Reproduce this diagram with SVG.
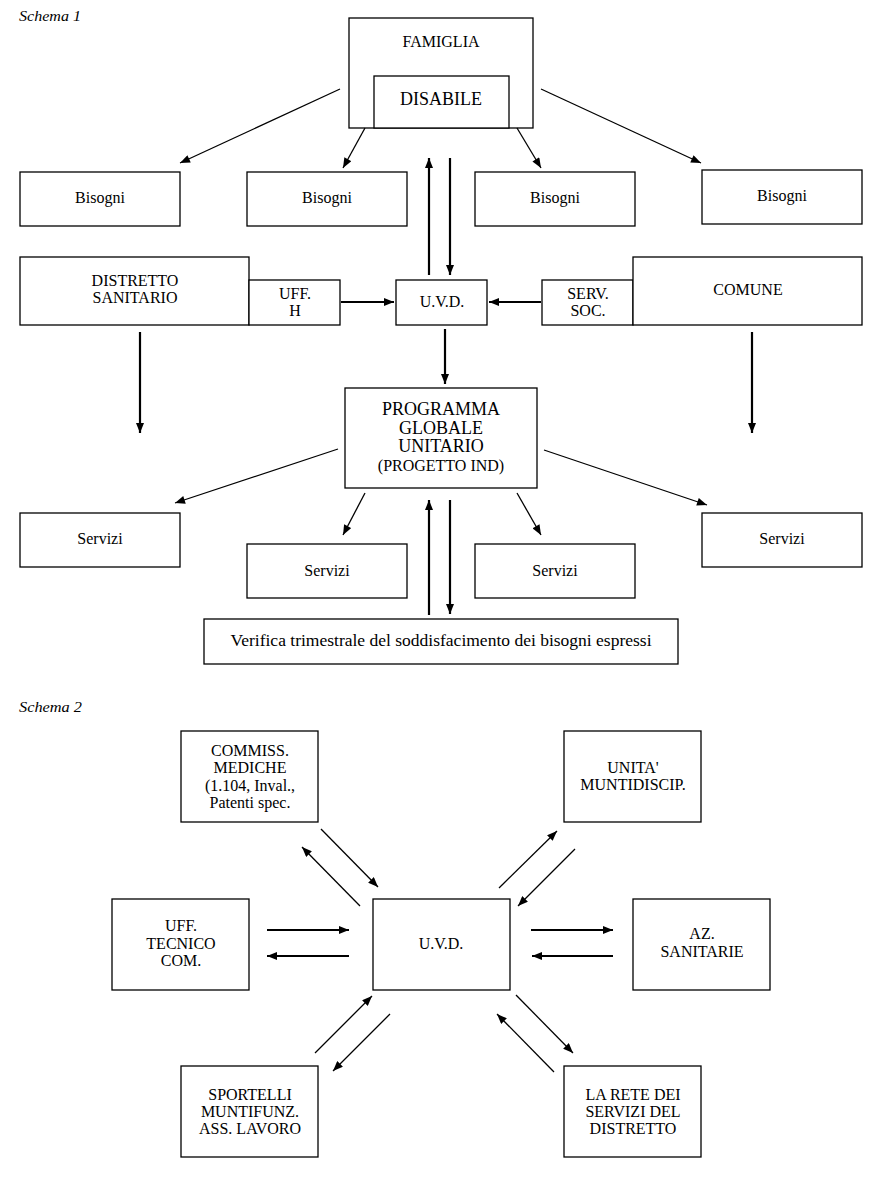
<svg xmlns="http://www.w3.org/2000/svg" width="883" height="1183" viewBox="0 0 883 1183">
<style>
rect{fill:#fff;stroke:#000;stroke-width:1.3}
text{font-family:"Liberation Serif","Times New Roman",serif;font-size:16px;fill:#000;text-anchor:middle}
.cap{font-style:italic;font-size:15px;text-anchor:start}
.big{font-size:18px}
.c line{stroke:#000;stroke-width:1.3;fill:none}
.c .th{stroke-width:2.2}
</style>
<defs>
<marker id="ah" viewBox="0 0 10 8" refX="10" refY="4" markerWidth="11" markerHeight="8" markerUnits="userSpaceOnUse" orient="auto">
<path d="M0,0 L10,4 L0,8 Z" fill="#000"/>
</marker>
</defs>
<rect x="0" y="0" width="883" height="1183" style="stroke:none"/>
<text class="cap" x="19" y="21" textLength="62" lengthAdjust="spacingAndGlyphs">Schema 1</text>
<text class="cap" x="19" y="712" textLength="63" lengthAdjust="spacingAndGlyphs">Schema 2</text>

<g id="famiglia"><rect x="349" y="18" width="184" height="110"/><text x="441" y="47">FAMIGLIA</text></g>
<g id="disabile"><rect x="374" y="76" width="135" height="52"/><text class="big" x="441" y="105">DISABILE</text></g>
<g id="bisogni1"><rect x="20" y="172" width="160" height="54"/><text x="100" y="203">Bisogni</text></g>
<g id="bisogni2"><rect x="247" y="172" width="160" height="54"/><text x="327" y="203">Bisogni</text></g>
<g id="bisogni3"><rect x="475" y="172" width="160" height="54"/><text x="555" y="203">Bisogni</text></g>
<g id="bisogni4"><rect x="702" y="170" width="160" height="54"/><text x="782" y="201">Bisogni</text></g>
<g id="distretto"><rect x="20" y="257" width="229" height="68"/><text x="135" y="286">DISTRETTO</text><text x="135" y="303">SANITARIO</text></g>
<g id="uffh"><rect x="249" y="280" width="91" height="45"/><text x="295" y="299">UFF.</text><text x="295" y="316">H</text></g>
<g id="uvd1"><rect x="396" y="280" width="91" height="45"/><text x="442" y="307">U.V.D.</text></g>
<g id="servsoc"><rect x="542" y="280" width="91" height="45"/><text x="588" y="299">SERV.</text><text x="588" y="316">SOC.</text></g>
<g id="comune"><rect x="633" y="257" width="229" height="68"/><text x="748" y="295">COMUNE</text></g>
<g id="programma"><rect x="345" y="388" width="192" height="100"/><text class="big" x="441" y="415">PROGRAMMA</text><text class="big" x="441" y="434">GLOBALE</text><text class="big" x="441" y="452">UNITARIO</text><text x="441" y="471">(PROGETTO IND)</text></g>
<g id="servizi1"><rect x="20" y="513" width="160" height="54"/><text x="100" y="544">Servizi</text></g>
<g id="servizi2"><rect x="247" y="544" width="160" height="54"/><text x="327" y="576">Servizi</text></g>
<g id="servizi3"><rect x="475" y="544" width="160" height="54"/><text x="555" y="576">Servizi</text></g>
<g id="servizi4"><rect x="702" y="513" width="160" height="54"/><text x="782" y="544">Servizi</text></g>
<g id="verifica"><rect x="204" y="619" width="474" height="45"/><text x="441" y="646" textLength="421" lengthAdjust="spacingAndGlyphs">Verifica trimestrale del soddisfacimento dei bisogni espressi</text></g>

<g id="commiss"><rect x="181" y="731" width="137" height="91"/><text x="250" y="756">COMMISS.</text><text x="250" y="773">MEDICHE</text><text x="250" y="791">(1.104, Inval.,</text><text x="250" y="808">Patenti spec.</text></g>
<g id="unita"><rect x="564" y="731" width="137" height="91"/><text x="633" y="773">UNITA'</text><text x="633" y="790">MUNTIDISCIP.</text></g>
<g id="ufftecnico"><rect x="112" y="899" width="137" height="91"/><text x="181" y="931">UFF.</text><text x="181" y="949">TECNICO</text><text x="181" y="966">COM.</text></g>
<g id="uvd2"><rect x="373" y="899" width="137" height="91"/><text x="441" y="949">U.V.D.</text></g>
<g id="azsanitarie"><rect x="633" y="899" width="137" height="91"/><text x="702" y="939">AZ.</text><text x="702" y="957">SANITARIE</text></g>
<g id="sportelli"><rect x="181" y="1066" width="137" height="91"/><text x="250" y="1100">SPORTELLI</text><text x="250" y="1117">MUNTIFUNZ.</text><text x="250" y="1134">ASS. LAVORO</text></g>
<g id="rete"><rect x="564" y="1066" width="137" height="91"/><text x="633" y="1100">LA RETE DEI</text><text x="633" y="1117">SERVIZI DEL</text><text x="633" y="1134">DISTRETTO</text></g>

<g id="connectors" class="c">
<line x1="340" y1="89" x2="180" y2="163" marker-end="url(#ah)"/>
<line x1="365" y1="128" x2="343" y2="168" marker-end="url(#ah)"/>
<line x1="517" y1="128" x2="541" y2="168" marker-end="url(#ah)"/>
<line x1="541" y1="89" x2="701" y2="163" marker-end="url(#ah)"/>
<line class="th" x1="429" y1="275" x2="429" y2="158" marker-end="url(#ah)"/>
<line class="th" x1="450" y1="158" x2="450" y2="275" marker-end="url(#ah)"/>
<line class="th" x1="341" y1="302" x2="394" y2="302" marker-end="url(#ah)"/>
<line class="th" x1="541" y1="302" x2="489" y2="302" marker-end="url(#ah)"/>
<line class="th" x1="140" y1="332" x2="140" y2="433" marker-end="url(#ah)"/>
<line class="th" x1="752" y1="332" x2="752" y2="433" marker-end="url(#ah)"/>
<line class="th" x1="445" y1="329" x2="445" y2="384" marker-end="url(#ah)"/>
<line x1="338" y1="449" x2="175" y2="503" marker-end="url(#ah)"/>
<line x1="365" y1="493" x2="343" y2="535" marker-end="url(#ah)"/>
<line x1="517" y1="493" x2="541" y2="535" marker-end="url(#ah)"/>
<line x1="544" y1="450" x2="707" y2="505" marker-end="url(#ah)"/>
<line class="th" x1="429" y1="615" x2="429" y2="500" marker-end="url(#ah)"/>
<line class="th" x1="450" y1="500" x2="450" y2="614" marker-end="url(#ah)"/>

<line x1="321" y1="829" x2="378" y2="887" marker-end="url(#ah)"/>
<line x1="360" y1="906" x2="302" y2="847" marker-end="url(#ah)"/>
<line x1="499" y1="888" x2="557" y2="831" marker-end="url(#ah)"/>
<line x1="575" y1="849" x2="518" y2="906" marker-end="url(#ah)"/>
<line class="th" x1="267" y1="930" x2="349" y2="930" marker-end="url(#ah)"/>
<line class="th" x1="349" y1="956" x2="267" y2="956" marker-end="url(#ah)"/>
<line class="th" x1="531" y1="930" x2="613" y2="930" marker-end="url(#ah)"/>
<line class="th" x1="613" y1="956" x2="532" y2="956" marker-end="url(#ah)"/>
<line x1="315" y1="1053" x2="372" y2="996" marker-end="url(#ah)"/>
<line x1="390" y1="1014" x2="333" y2="1071" marker-end="url(#ah)"/>
<line x1="516" y1="995" x2="573" y2="1053" marker-end="url(#ah)"/>
<line x1="554" y1="1072" x2="497" y2="1014" marker-end="url(#ah)"/>
</g>
</svg>
